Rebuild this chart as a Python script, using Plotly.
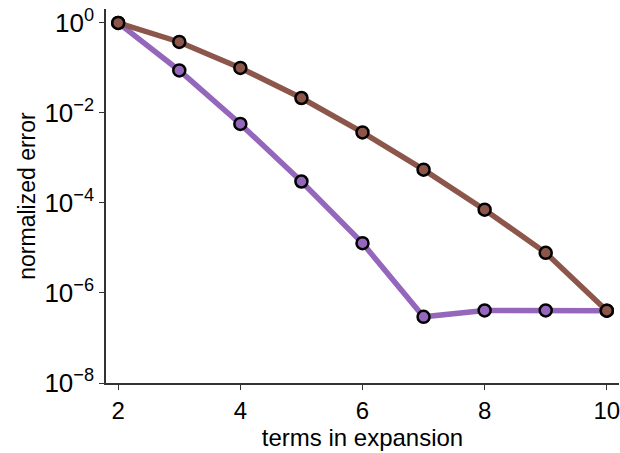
import plotly.graph_objects as go

# number of terms kept in the expansion
terms = [2, 3, 4, 5, 6, 7, 8, 9, 10]

# normalized error for the two expansions
err_fast = [1.0, 8.8e-2, 5.7e-3, 3.0e-4, 1.28e-5, 2.95e-7, 4.1e-7, 4.1e-7, 4.05e-7]
err_slow = [1.0, 0.378, 0.100, 2.15e-2, 3.7e-3, 5.5e-4, 7.1e-5, 7.8e-6, 4.05e-7]

y_tickvals = [1e-8, 1e-6, 1e-4, 1e-2, 1]
y_ticktext = ["10<sup>−8</sup>", "10<sup>−6</sup>", "10<sup>−4</sup>",
              "10<sup>−2</sup>", "10<sup>0</sup>"]
x_tickvals = [2, 4, 6, 8, 10]

FONT = "Liberation Sans"
AXIS_COLOR = "#333333"

fig = go.Figure()

for ys, color in [(err_fast, "#9467bd"), (err_slow, "#8c564b")]:
    fig.add_trace(go.Scatter(
        x=terms, y=ys, mode="lines+markers",
        line=dict(color=color, width=5.5),
        marker=dict(size=12, color=color, line=dict(color="black", width=2.5)),
        showlegend=False,
        cliponaxis=False,
    ))

fig.update_layout(
    width=620, height=453,
    margin=dict(l=106, r=1, t=9, b=70),
    plot_bgcolor="white", paper_bgcolor="white",
    font=dict(family=FONT, color="black"),
)

fig.update_xaxes(
    range=[1.8, 10.2],
    tickvals=x_tickvals,
    ticks="outside", ticklen=5, tickwidth=1.2, tickcolor=AXIS_COLOR,
    showline=True, linecolor=AXIS_COLOR, linewidth=1.5,
    showgrid=False, zeroline=False,
    tickfont=dict(size=24, family=FONT),
    ticklabeloverflow="allow",
    title=dict(text="terms in expansion", font=dict(size=24, family=FONT), standoff=4),
)

fig.update_yaxes(
    type="log",
    range=[-8, 0.31],
    tickvals=y_tickvals, ticktext=y_ticktext,
    ticks="outside", ticklen=5, tickwidth=1.2, tickcolor=AXIS_COLOR,
    showline=True, linecolor=AXIS_COLOR, linewidth=1.5,
    showgrid=False, zeroline=False,
    tickfont=dict(size=26, family=FONT),
    title=dict(text="normalized error", font=dict(size=23, family=FONT), standoff=2),
)

fig.write_html("out.html")
